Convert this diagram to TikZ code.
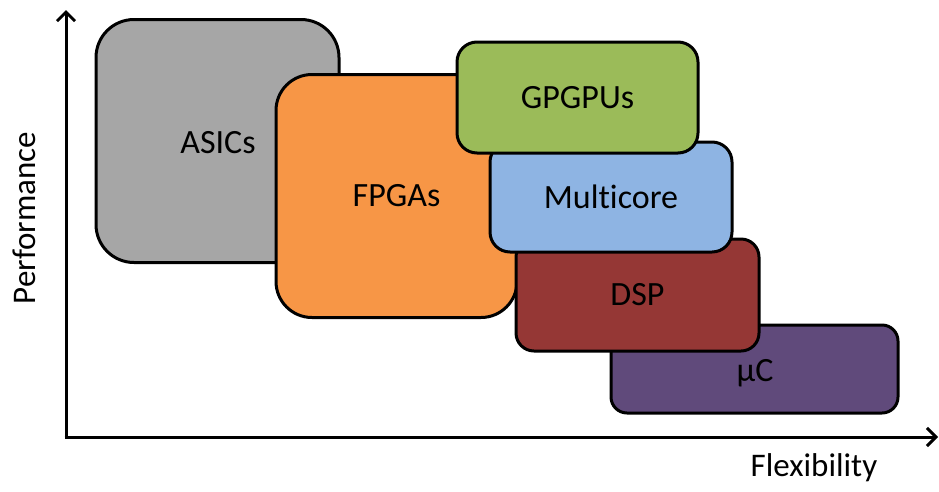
\documentclass[tikz,border=0pt]{standalone}
\usepackage{fontspec}
\setmainfont{Carlito}[Ligatures=NoCommon]
\usetikzlibrary{arrows.meta}
\definecolor{asicgray}{HTML}{A6A6A6}
\definecolor{fpgaorange}{HTML}{F79646}
\definecolor{gpugreen}{HTML}{9BBB59}
\definecolor{coreblue}{HTML}{8EB4E3}
\definecolor{dspred}{HTML}{953735}
\definecolor{mcpurple}{HTML}{604A7B}
\begin{document}
\begin{tikzpicture}[x=1pt,y=-1pt,
  block/.style={draw=black, line width=3pt, inner sep=0pt,
    font=\fontsize{34}{40}\selectfont, text=black},
  axis/.style={line width=3pt, -{Straight Barb[length=9pt,width=18pt,line width=3pt]}},
  axlabel/.style={font=\fontsize{33}{40}\selectfont}]
\useasboundingbox (0,0) rectangle (939,491);
% boxes, drawn back to front
\node[block, fill=asicgray, rounded corners=38pt, minimum width=243pt, minimum height=243pt] (asic) at (217.5,141) {};
\node (asiclabel) at (218,143) {\fontsize{34}{40}\selectfont ASICs};
\node[block, fill=fpgaorange, rounded corners=36pt, minimum width=241pt, minimum height=243pt] (fpga) at (396.5,196) {FPGAs};
\node[block, fill=mcpurple, rounded corners=16pt, minimum width=287pt, minimum height=88pt] (uc) at (754.5,369) {};
\node (uclabel) at (755,373) {\fontsize{34}{40}\selectfont µC};
\node[block, fill=dspred, rounded corners=18pt, minimum width=243pt, minimum height=112pt] (dsp) at (637.5,295) {DSP};
\node[block, fill=coreblue, rounded corners=20pt, minimum width=242pt, minimum height=110pt] (core) at (611,197) {Multicore};
\node[block, fill=gpugreen, rounded corners=20pt, minimum width=241pt, minimum height=111pt] (gpu) at (577.5,97.5) {GPGPUs};
% axes
\coordinate (origin) at (66,437);
\coordinate (ytop) at (66,10);
\coordinate (xend) at (938,437);
\draw[axis] (origin) -- (ytop);
\draw[axis] ([xshift=-1.5pt]origin) -- (xend);
\node[axlabel, rotate=90] (perf) at (24,218) {Performance};
\node[axlabel] (flex) at (814,468) {Flexibility};
\end{tikzpicture}
\end{document}
